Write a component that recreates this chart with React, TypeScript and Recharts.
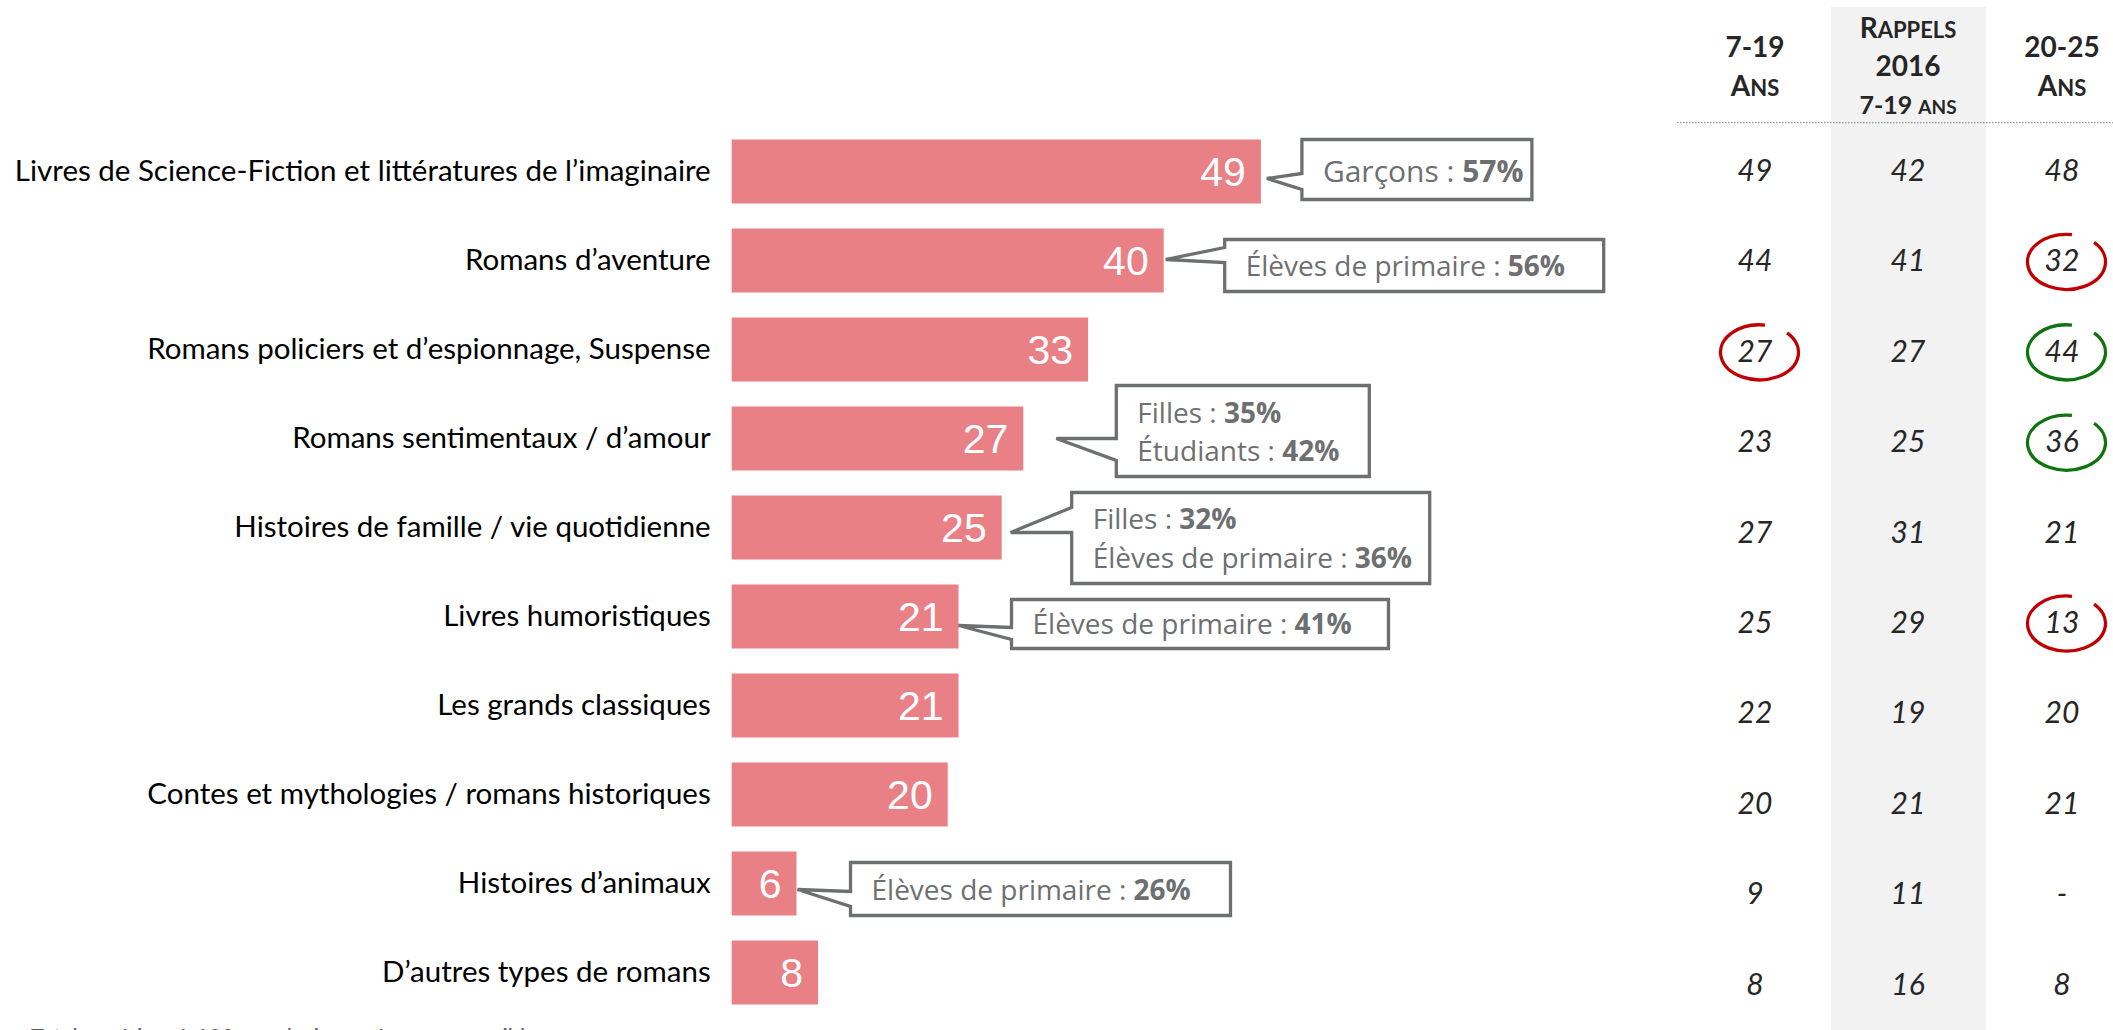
import React from 'react';
import { BarChart, Bar, XAxis, YAxis, LabelList } from 'recharts';

const categories = [
  'Livres de Science-Fiction et littératures de l’imaginaire',
  'Romans d’aventure',
  'Romans policiers et d’espionnage, Suspense',
  'Romans sentimentaux / d’amour',
  'Histoires de famille / vie quotidienne',
  'Livres humoristiques',
  'Les grands classiques',
  'Contes et mythologies / romans historiques',
  'Histoires d’animaux',
  'D’autres types de romans',
];
const values = [49, 40, 33, 27, 25, 21, 21, 20, 6, 8];

// tableau de droite
const col719 = [49, 44, 27, 23, 27, 25, 22, 20, 9, 8];
const colRappels = [42, 41, 27, 25, 31, 29, 19, 21, 11, 16];
const col2025: (number | null)[] = [48, 32, 44, 36, 21, 13, 20, 21, null, 8];
// écarts significatifs : down = rouge, up = vert
const flags719 = [null, null, 'down', null, null, null, null, null, null, null];
const flags2025 = [null, 'down', 'up', 'up', null, 'down', null, null, null, null];

// bulles : [libellé, valeur en gras]
const callouts: ([string, string][] | null)[] = [
  [['Garçons', '57%']],
  [['Élèves de primaire', '56%']],
  null,
  [['Filles', '35%'], ['Étudiants', '42%']],
  [['Filles', '32%'], ['Élèves de primaire', '36%']],
  [['Élèves de primaire', '41%']],
  null,
  null,
  [['Élèves de primaire', '26%']],
  null,
];

// placement des bulles, relatif à la fin de la barre et au centre de la ligne
const calloutLayout: any[] = [
  { tip: [6, 7], box: [41, -32, 230, 60], att: [2, 18], base: [10], fs: 30 },
  { tip: [2, -1], box: [61, -21, 379, 52], att: [-13, 2], base: [15], fs: 28 },
  null,
  { tip: [33, 0], box: [93, -53, 253, 91], att: [0, 22], base: [-16, 22], fs: 28 },
  { tip: [9, 5], box: [70, -35, 358, 91], att: [-20, 5], base: [1, 40], fs: 28 },
  { tip: [0, 9], box: [53, -17, 377, 49], att: [11, 23], base: [17], fs: 28 },
  null,
  null,
  { tip: [1, 6], box: [54, -21, 380, 53], att: [8, 23], base: [16], fs: 28 },
  null,
];

const data = categories.map((name, i) => ({ name, value: values[i] }));

const PINK = '#e98085';
const GREY = '#6d6f71';
const DARK = '#262626';

const CatTick = ({ x, y, payload }: any) => (
  <text x={x} y={y} dy="0.35em" textAnchor="end" fill="#000" fontSize={29.5} fontFamily="Lato">
    {payload.value}
  </text>
);

const renderCallout = (props: any) => {
  const index = props.index;
  const lines = callouts[index];
  const lay = calloutLayout[index];
  if (!lines || !lay) return null;
  const vb = props.viewBox ?? props;
  const be = vb.x + vb.width;
  const cy = vb.y + vb.height / 2;
  const bx = be + lay.box[0];
  const by = cy + lay.box[1];
  const w = lay.box[2];
  const h = lay.box[3];
  const d = `M${bx},${by} H${bx + w} V${by + h} H${bx} V${cy + lay.att[1]} L${be + lay.tip[0]},${cy + lay.tip[1]} L${bx},${cy + lay.att[0]} Z`;
  return (
    <g key={`callout-${index}`}>
      <path d={d} fill="#fff" stroke={GREY} strokeWidth={3.3} />
      {lines.map((l, j) => (
        <text key={j} x={bx + 21} y={cy + lay.base[j]} fill={GREY} fontSize={lay.fs} fontFamily="Open Sans">
          <tspan>{l[0]} : </tspan>
          <tspan fontWeight="bold">{l[1]}</tspan>
        </text>
      ))}
    </g>
  );
};

// table columns
const COLS = [1755, 1908, 2062];
const ROW0 = 181;
const ROWSTEP = 90.4;

const arc = (cx: number, cy: number, rx: number, ry: number) => {
  const p = (deg: number) => {
    const t = (deg * Math.PI) / 180;
    return `${cx + rx * Math.cos(t)},${cy + ry * Math.sin(t)}`;
  };
  return `M${p(-45)} A${rx},${ry} 0 1 1 ${p(278)}`;
};

const Ring = ({ x, y, kind }: any) =>
  kind ? (
    <path
      d={arc(x + 4.5, y - 9.5, 39, 27.5)}
      fill="none"
      stroke={kind === 'down' ? '#c00000' : '#0f740f'}
      strokeWidth={3.3}
    />
  ) : null;

const Table = () => (
  <svg width={2113} height={1030} style={{ position: 'absolute', left: 0, top: 0 }}>
    <rect x={1831} y={7} width={155} height={1030} fill="#f2f2f2" />
    <g fontFamily="Lato" fontWeight="bold" fill={DARK} textAnchor="middle">
      <text x={COLS[0]} y={57} fontSize={28}>7-19</text>
      <text x={COLS[0]} y={96}>
        <tspan fontSize={28}>A</tspan>
        <tspan fontSize={22}>NS</tspan>
      </text>
      <text x={COLS[1]} y={38}>
        <tspan fontSize={28}>R</tspan>
        <tspan fontSize={22}>APPELS</tspan>
      </text>
      <text x={COLS[1]} y={76} fontSize={28}>2016</text>
      <text x={COLS[1]} y={114}>
        <tspan fontSize={25}>7-19 </tspan>
        <tspan fontSize={19}>ANS</tspan>
      </text>
      <text x={COLS[2]} y={57} fontSize={28}>20-25</text>
      <text x={COLS[2]} y={96}>
        <tspan fontSize={28}>A</tspan>
        <tspan fontSize={22}>NS</tspan>
      </text>
    </g>
    <line x1={1677} x2={2113} y1={122.7} y2={122.7} stroke="#9a9a9a" strokeWidth={1.3} strokeDasharray="1.5 1.5" />
    <g fontFamily="Lato" fontStyle="italic" fontSize={30} fill={DARK} textAnchor="middle">
      {categories.map((c, i) => {
        const y = ROW0 + i * ROWSTEP;
        return (
          <g key={c}>
            <text x={COLS[0]} y={y}>{col719[i]}</text>
            <text x={COLS[1]} y={y}>{colRappels[i]}</text>
            <text x={COLS[2]} y={y}>{col2025[i] == null ? '-' : col2025[i]}</text>
            <Ring x={COLS[0]} y={y} kind={flags719[i]} />
            <Ring x={COLS[2]} y={y} kind={flags2025[i]} />
          </g>
        );
      })}
    </g>
    <text x={31} y={1044} fontSize={22} fontFamily="Lato" fill="#595959">
      Total supérieur à 100 car plusieurs réponses possibles
    </text>
  </svg>
);

export default function App() {
  return (
    <div style={{ position: 'absolute', left: 0, top: 0, width: 2113, height: 1030, background: '#fff' }}>
      <Table />
      <div style={{ position: 'absolute', left: 0, top: 0 }}>
        <BarChart
          width={2113}
          height={1030}
          data={data}
          layout="vertical"
          margin={{ top: 126.5, right: 841.3, bottom: 13.5, left: 0 }}
        >
          <XAxis type="number" domain={[0, 50]} hide />
          <YAxis
            type="category"
            dataKey="name"
            width={731.7}
            axisLine={false}
            tickLine={false}
            tickSize={0}
            tickMargin={21}
            interval={0}
            tick={<CatTick />}
          />
          <Bar dataKey="value" fill={PINK} barSize={64} isAnimationActive={false}>
            <LabelList
              dataKey="value"
              position="insideRight"
              offset={15}
              fill="#fff"
              fontSize={41}
              fontFamily="Liberation Sans"
            />
            <LabelList dataKey="value" content={renderCallout} />
          </Bar>
        </BarChart>
      </div>
    </div>
  );
}
